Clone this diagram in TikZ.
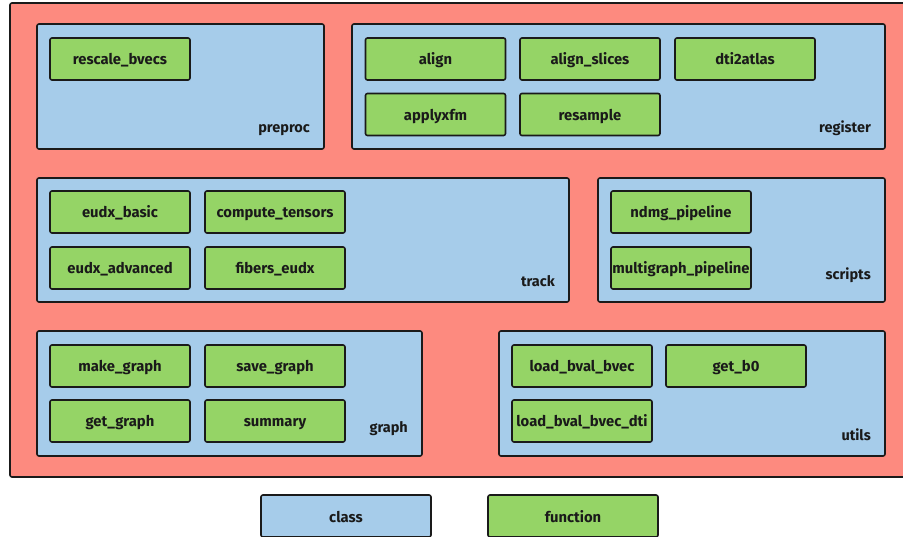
\documentclass[tikz,border=0pt]{standalone}
\usepackage{fontspec}
\setmainfont{Fira Sans}
\definecolor{pkgred}{HTML}{FD8A7F}
\definecolor{clsblue}{HTML}{A6CCEA}
\definecolor{fngreen}{HTML}{95D466}
\definecolor{edge}{HTML}{1A1A1A}
\begin{document}
\begin{tikzpicture}[x=1pt,y=-1pt,
  box/.style={draw=edge,line width=1.6pt,rounded corners=2pt,inner sep=0pt},
  pkg/.style={box,fill=pkgred},
  cls/.style={box,fill=clsblue},
  fn/.style={box,fill=fngreen,minimum width=140pt,minimum height=42pt,
    text height=12pt,text depth=0pt,
    font=\fontsize{14.8}{16}\selectfont\bfseries,text=edge},
  lab/.style={font=\fontsize{14.5}{16}\selectfont\bfseries,inner sep=0pt,
    text=edge,anchor=base east}]
\useasboundingbox (0,0) rectangle (903,537);
\begin{scope}
\clip (0,0) rectangle (903,537);
% package frame
\draw[pkg] (10,3) rectangle (915,477);
\end{scope}

% class containers
\draw[cls] (37,24) rectangle (324,149);
\draw[cls] (352,24) rectangle (885,149);
\draw[cls] (37,178) rectangle (569,302);
\draw[cls] (598,178) rectangle (885,302);
\draw[cls] (37,331) rectangle (422,456);
\draw[cls] (499,331) rectangle (885,456);

% class names
\node[lab] (preproc) at (310,133) {preproc};
\node[lab] (register) at (871,133) {register};
\node[lab] (track) at (555,287) {track};
\node[lab] (scripts) at (871,280) {scripts};
\node[lab] (graph) at (408,433) {graph};
\node[lab] (utils) at (871,440) {utils};

% functions
\node[fn] (rescale) at (120,59) {rescale\_bvecs};
\node[fn] (align) at (435.5,59) {align};
\node[fn] (alignslices) at (590,59) {align\_slices};
\node[fn] (dtiatlas) at (745,59) {dti2atlas};
\node[fn] (applyxfm) at (435.5,114.5) {applyxfm};
\node[fn] (resample) at (590,114.5) {resample};

\node[fn] (eudxbasic) at (120,212) {eudx\_basic};
\node[fn] (tensors) at (275,212) {compute\_tensors};
\node[fn] (eudxadv) at (120,268) {eudx\_advanced};
\node[fn] (fibers) at (275,268) {fibers\_eudx};

\node[fn] (ndmg) at (681,212) {ndmg\_pipeline};
\node[fn] (multigraph) at (681,268) {multigraph\_pipeline};

\node[fn] (makegraph) at (120,366) {make\_graph};
\node[fn] (savegraph) at (275,366) {save\_graph};
\node[fn] (getgraph) at (120,421) {get\_graph};
\node[fn] (summary) at (275,421) {summary};

\node[fn] (loadbv) at (582,366) {load\_bval\_bvec};
\node[fn] (getb) at (736,366) {get\_b0};
\node[fn] (loadbvdti) at (582,421) {load\_bval\_bvec\_dti};

% legend
\node[fn,fill=clsblue,minimum width=170pt] (legclass) at (346,516) {class};
\node[fn,minimum width=170pt] (legfn) at (573,516) {function};
\end{tikzpicture}
\end{document}
